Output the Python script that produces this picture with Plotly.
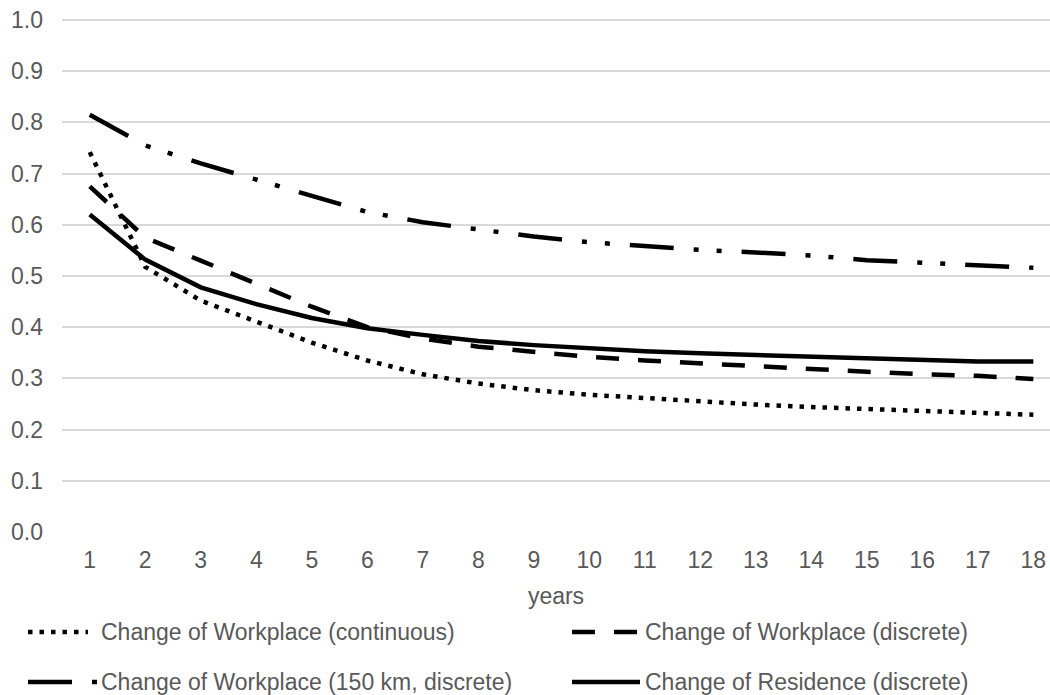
import plotly.graph_objects as go

years = list(range(1, 19))
workplace_continuous = [0.742, 0.518, 0.452, 0.41, 0.37, 0.335, 0.308, 0.29, 0.277, 0.268,
                        0.261, 0.255, 0.249, 0.244, 0.24, 0.237, 0.233, 0.229]
workplace_discrete = [0.675, 0.575, 0.53, 0.485, 0.44, 0.40, 0.378, 0.362, 0.351, 0.342,
                      0.335, 0.329, 0.324, 0.319, 0.313, 0.308, 0.305, 0.299]
workplace_150km = [0.815, 0.755, 0.72, 0.688, 0.655, 0.625, 0.605, 0.59, 0.577, 0.566,
                   0.558, 0.551, 0.546, 0.54, 0.531, 0.526, 0.52, 0.516]
residence_discrete = [0.62, 0.532, 0.478, 0.445, 0.418, 0.398, 0.385, 0.373, 0.365, 0.358,
                      0.353, 0.349, 0.346, 0.341, 0.338, 0.337, 0.333, 0.333]

names = ["Change of Workplace (continuous)", "Change of Workplace (discrete)",
         "Change of Workplace (150 km, discrete)", "Change of Residence (discrete)"]
y_ticks = [round(i * 0.1, 1) for i in range(11)]

W, H = 1050, 695
ML, MR, MT, MB = 62, 0, 19, 163
PW, PH = W - ML - MR, H - MT - MB
TXT = "#595959"
FONT = "Liberation Sans, Arial, sans-serif"
FS = 23
LW = 4.5

styles = ["4.5px,7px", "23px,19px", "44px,20px,5px,18px,5px,20px", "solid"]
series = [workplace_continuous, workplace_discrete, workplace_150km, residence_discrete]

fig = go.Figure()
for nm, ys, ds in zip(names, series, styles):
    fig.add_trace(go.Scatter(x=years, y=ys, mode="lines", name=nm, showlegend=False,
                             line=dict(color="black", width=LW, dash=ds)))


def px(x_img):
    return (x_img - ML) / PW


def py(y_img):
    return (H - MB - y_img) / PH


# custom legend (two columns, two rows), positions in screenshot pixels
legend_items = [
    (names[0], styles[0], 28, 88, 99, 632),
    (names[1], styles[1], 572, 637, 643, 632),
    (names[2], styles[2], 28, 97, 99, 682),
    (names[3], styles[3], 572, 640, 643, 682),
]
for nm, ds, x0, x1, xt, yy in legend_items:
    fig.add_shape(type="line", xref="paper", yref="paper", x0=px(x0), x1=px(x1),
                  y0=py(yy), y1=py(yy), line=dict(color="black", width=LW, dash=ds))
    fig.add_annotation(text=nm, xref="paper", yref="paper", x=px(xt), y=py(yy),
                       xanchor="left", yanchor="middle", showarrow=False,
                       font=dict(size=FS, color=TXT, family=FONT))

fig.update_layout(
    width=W, height=H,
    margin=dict(l=ML, r=MR, t=MT, b=MB),
    paper_bgcolor="white", plot_bgcolor="white",
    font=dict(family=FONT, size=FS, color=TXT),
    showlegend=False,
)
fig.update_xaxes(range=[0.5, 18.3], tickmode="array", tickvals=years,
                 ticktext=[str(v) for v in years], showgrid=False, zeroline=False,
                 showline=False, ticks="", ticklabelstandoff=12,
                 title=dict(text="years", standoff=15, font=dict(size=FS, color=TXT)),
                 tickfont=dict(size=FS, color=TXT))
fig.update_yaxes(range=[0, 1.002], tickmode="array", tickvals=y_ticks,
                 ticktext=[f"{v:.1f}" for v in y_ticks], showgrid=True,
                 gridcolor="#d9d9d9", gridwidth=1.5, zeroline=False, showline=False,
                 ticks="", ticklabelstandoff=18, tickfont=dict(size=FS, color=TXT))

fig.write_html(
    "out.html",
    config={"displayModeBar": False},
    post_script="document.body.style.margin='0px';document.body.style.overflow='hidden';",
)
